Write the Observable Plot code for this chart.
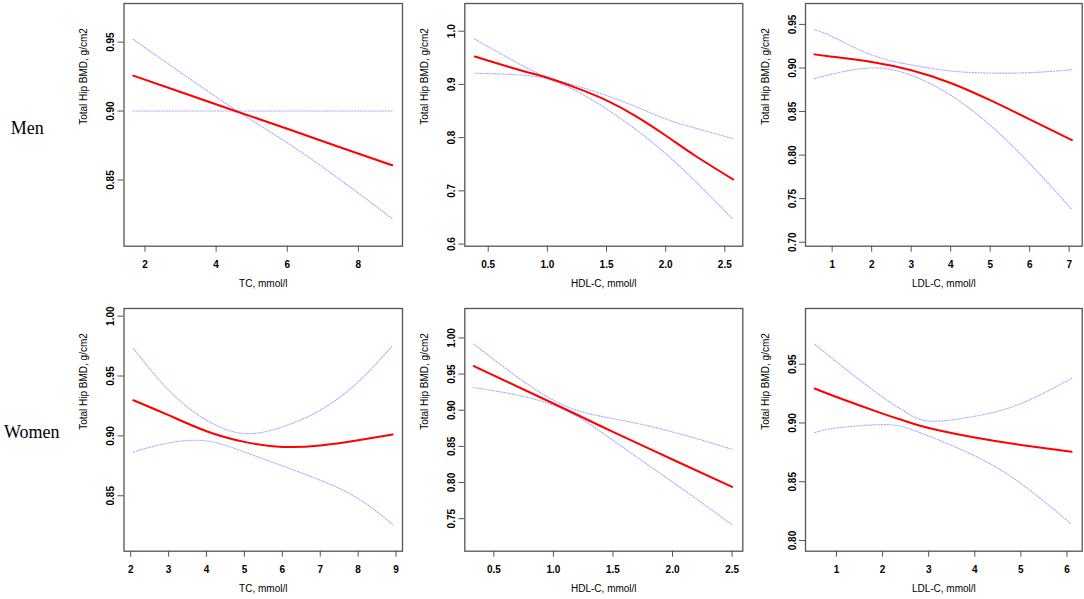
<!DOCTYPE html>
<html><head><meta charset="utf-8">
<script src="https://cdn.jsdelivr.net/npm/d3@7"></script>
<script src="https://cdn.jsdelivr.net/npm/@observablehq/plot@0.6"></script>
<style>
html,body{margin:0;padding:0;background:#fff;}
#wrap{position:relative;width:1084px;height:599px;overflow:hidden;font-family:"Liberation Sans",Arial,sans-serif;}
.cell{position:absolute;}
.cell svg{background:transparent;overflow:visible;}
.row-label{position:absolute;font-family:"Liberation Serif","Times New Roman",serif;font-size:18px;line-height:18px;color:#000;white-space:nowrap;}
</style></head><body><div id="wrap"></div>
<script>
// ---- data ----
const rowLabels = ["Men", "Women"];
const yTitle = "Total Hip BMD, g/cm2";

// Men, TC
const menTC_x   = [1.67, 3, 4.6, 6, 7.5, 8.95];
const menTC_fit = [0.9257, 0.9138, 0.8995, 0.8872, 0.8736, 0.8607];
const menTC_ciA = [0.952, 0.928, 0.900, 0.877, 0.850, 0.822];
const menTC_ciB = [0.900, 0.900, 0.900, 0.900, 0.900, 0.900];
const menTC_xTicks = [2, 4, 6, 8];
const menTC_xLabels = ["2", "4", "6", "8"];
const menTC_yTicks = [0.85, 0.90, 0.95];
const menTC_yLabels = ["0.85", "0.90", "0.95"];

// Men, HDL-C
const menHDL_x   = [0.387, 0.75, 1.0, 1.25, 1.5, 1.75, 2.0, 2.25, 2.57];
const menHDL_fit = [0.9525, 0.928, 0.9125, 0.893, 0.870, 0.840, 0.804, 0.766, 0.7215];
const menHDL_ciA = [0.985, 0.940, 0.9136, 0.897, 0.879, 0.858, 0.835, 0.818, 0.798];
const menHDL_ciB = [0.921, 0.918, 0.910, 0.887, 0.854, 0.815, 0.770, 0.718, 0.6465];
const menHDL_xTicks = [0.5, 1.0, 1.5, 2.0, 2.5];
const menHDL_xLabels = ["0.5", "1.0", "1.5", "2.0", "2.5"];
const menHDL_yTicks = [0.6, 0.7, 0.8, 0.9, 1.0];
const menHDL_yLabels = ["0.6", "0.7", "0.8", "0.9", "1.0"];

// Men, LDL-C
const menLDL_x   = [0.55, 1, 2, 3, 4, 5, 6, 7.07];
const menLDL_fit = [0.9156, 0.913, 0.9068, 0.8974, 0.8828, 0.863, 0.841, 0.8171];
const menLDL_ciA = [0.944, 0.936, 0.915, 0.9035, 0.8965, 0.8942, 0.8946, 0.898];
const menLDL_ciB = [0.8877, 0.893, 0.900, 0.8917, 0.8687, 0.8343, 0.7904, 0.7376];
const menLDL_xTicks = [1, 2, 3, 4, 5, 6, 7];
const menLDL_xLabels = ["1", "2", "3", "4", "5", "6", "7"];
const menLDL_yTicks = [0.70, 0.75, 0.80, 0.85, 0.90, 0.95];
const menLDL_yLabels = ["0.70", "0.75", "0.80", "0.85", "0.90", "0.95"];

// Women, TC
const womenTC_x   = [2.07, 3, 4, 5, 6, 7, 8, 8.91];
const womenTC_fit = [0.9298, 0.9173, 0.9039, 0.895, 0.8908, 0.892, 0.8964, 0.9012];
const womenTC_ciA = [0.9731, 0.9382, 0.9131, 0.902, 0.9075, 0.9215, 0.945, 0.9757];
const womenTC_ciB = [0.8866, 0.8941, 0.8958, 0.8866, 0.875, 0.863, 0.8477, 0.826];
const womenTC_xTicks = [2, 3, 4, 5, 6, 7, 8, 9];
const womenTC_xLabels = ["2", "3", "4", "5", "6", "7", "8", "9"];
const womenTC_yTicks = [0.85, 0.90, 0.95, 1.00];
const womenTC_yLabels = ["0.85", "0.90", "0.95", "1.00"];

// Women, HDL-C
const womenHDL_x   = [0.332, 1.0, 1.5, 2.0, 2.5];
const womenHDL_fit = [0.961, 0.9093, 0.870, 0.8318, 0.7939];
const womenHDL_ciA = [0.9914, 0.9139, 0.8885, 0.870, 0.846];
const womenHDL_ciB = [0.9314, 0.907, 0.8584, 0.8007, 0.7418];
const womenHDL_xTicks = [0.5, 1.0, 1.5, 2.0, 2.5];
const womenHDL_xLabels = ["0.5", "1.0", "1.5", "2.0", "2.5"];
const womenHDL_yTicks = [0.75, 0.80, 0.85, 0.90, 0.95, 1.00];
const womenHDL_yLabels = ["0.75", "0.80", "0.85", "0.90", "0.95", "1.00"];

// Women, LDL-C
const womenLDL_x   = [0.53, 1, 2, 2.5, 3, 4, 5, 6.1];
const womenLDL_fit = [0.9293, 0.9221, 0.908, 0.9015, 0.8957, 0.8876, 0.8813, 0.8756];
const womenLDL_ciA = [0.967, 0.952, 0.922, 0.9094, 0.9017, 0.9057, 0.9165, 0.938];
const womenLDL_ciB = [0.8918, 0.8957, 0.8986, 0.896, 0.8889, 0.872, 0.8486, 0.8137];
const womenLDL_xTicks = [1, 2, 3, 4, 5, 6];
const womenLDL_xLabels = ["1", "2", "3", "4", "5", "6"];
const womenLDL_yTicks = [0.80, 0.85, 0.90, 0.95];
const womenLDL_yLabels = ["0.80", "0.85", "0.90", "0.95"];

const xTitles = ["TC, mmol/l", "HDL-C, mmol/l", "LDL-C, mmol/l"];

// ---- panels ----
const panels = [
  {x: menTC_x, fit: menTC_fit, a: menTC_ciA, b: menTC_ciB, xT: menTC_xTicks, xL: menTC_xLabels, yT: menTC_yTicks, yL: menTC_yLabels, xDom: [1.41, 9.24], yDom: [0.802, 0.978], title: xTitles[0], row: 0, col: 0},
  {x: menHDL_x, fit: menHDL_fit, a: menHDL_ciA, b: menHDL_ciB, xT: menHDL_xTicks, xL: menHDL_xLabels, yT: menHDL_yTicks, yL: menHDL_yLabels, xDom: [0.302, 2.652], yDom: [0.596, 1.052], title: xTitles[1], row: 0, col: 1},
  {x: menLDL_x, fit: menLDL_fit, a: menLDL_ciA, b: menLDL_ciB, xT: menLDL_xTicks, xL: menLDL_xLabels, yT: menLDL_yTicks, yL: menLDL_yLabels, xDom: [0.325, 7.33], yDom: [0.6954, 0.974], title: xTitles[2], row: 0, col: 2},
  {x: womenTC_x, fit: womenTC_fit, a: womenTC_ciA, b: womenTC_ciB, xT: womenTC_xTicks, xL: womenTC_xLabels, yT: womenTC_yTicks, yL: womenTC_yLabels, xDom: [1.823, 9.17], yDom: [0.8037, 1.0064], title: xTitles[0], row: 1, col: 0},
  {x: womenHDL_x, fit: womenHDL_fit, a: womenHDL_ciA, b: womenHDL_ciB, xT: womenHDL_xTicks, xL: womenHDL_xLabels, yT: womenHDL_yTicks, yL: womenHDL_yLabels, xDom: [0.256, 2.59], yDom: [0.705, 1.0407], title: xTitles[1], row: 1, col: 1},
  {x: womenLDL_x, fit: womenLDL_fit, a: womenLDL_ciA, b: womenLDL_ciB, xT: womenLDL_xTicks, xL: womenLDL_xLabels, yT: womenLDL_yTicks, yL: womenLDL_yLabels, xDom: [0.328, 6.33], yDom: [0.7909, 0.9974], title: xTitles[2], row: 1, col: 2}
];

const colLayout = [
  {left: 0, width: 403, ml: 123.5, mr: 1},
  {left: 403, width: 340, ml: 61.3, mr: 0.7},
  {left: 743, width: 341, ml: 62, mr: 2.3}
];
const rowLayout = [
  {top: 0, height: 298, mt: 3, mb: 52.3},
  {top: 300, height: 299, mt: 8, mb: 48.3}
];

const wrap = document.getElementById("wrap");
const ciStyle = {curve: "natural", stroke: "#a9a9ff", strokeWidth: 1.1, strokeDasharray: "1.2,1.6"};
const lab = (ticks, labels) => d => labels[ticks.indexOf(d)];

for (const p of panels) {
  const C = colLayout[p.col], R = rowLayout[p.row];
  const rows = p.x.map((x, i) => ({x, fit: p.fit[i], a: p.a[i], b: p.b[i]}));
  const chart = Plot.plot({
    width: C.width, height: R.height,
    marginLeft: C.ml, marginRight: C.mr, marginTop: R.mt, marginBottom: R.mb,
    x: {domain: p.xDom},
    y: {domain: p.yDom},
    style: {background: "transparent", fontFamily: "'Liberation Sans', Arial, sans-serif", overflow: "visible", color: "#000"},
    marks: [
      Plot.line(rows, {x: "x", y: "a", ...ciStyle}),
      Plot.line(rows, {x: "x", y: "b", ...ciStyle}),
      Plot.line(rows, {x: "x", y: "fit", curve: "natural", stroke: "#ff0000", strokeWidth: 2}),
      Plot.frame({stroke: "#555", strokeWidth: 1.3}),
      Plot.axisX(p.xT, {tickSize: 6, tickPadding: 9, fontSize: 10, fontWeight: "bold", tickFormat: lab(p.xT, p.xL), label: null, stroke: "#555"}),
      Plot.axisY(p.yT, {tickSize: 6, tickRotate: -90, tickPadding: 4, fontSize: 10, fontWeight: "bold", tickFormat: lab(p.yT, p.yL), label: null, stroke: "#555"}),
      Plot.text([p.title], {frameAnchor: "bottom", dy: 41, text: d => d, fontSize: 10, fill: "#000"}),
      Plot.text([yTitle], {frameAnchor: "left", dx: -40, rotate: -90, text: d => d, fontSize: 10, fill: "#000"})
    ]
  });
  const div = document.createElement("div");
  div.className = "cell";
  div.style.left = C.left + "px";
  div.style.top = R.top + "px";
  div.appendChild(chart);
  wrap.appendChild(div);
}

const labelTops = [118.9, 423.2];
rowLabels.forEach((t, i) => {
  const d = document.createElement("div");
  d.className = "row-label";
  d.style.left = (i === 0 ? 10.7 : 4) + "px";
  d.style.top = labelTops[i] + "px";
  d.textContent = t;
  wrap.appendChild(d);
});
</script></body></html>
